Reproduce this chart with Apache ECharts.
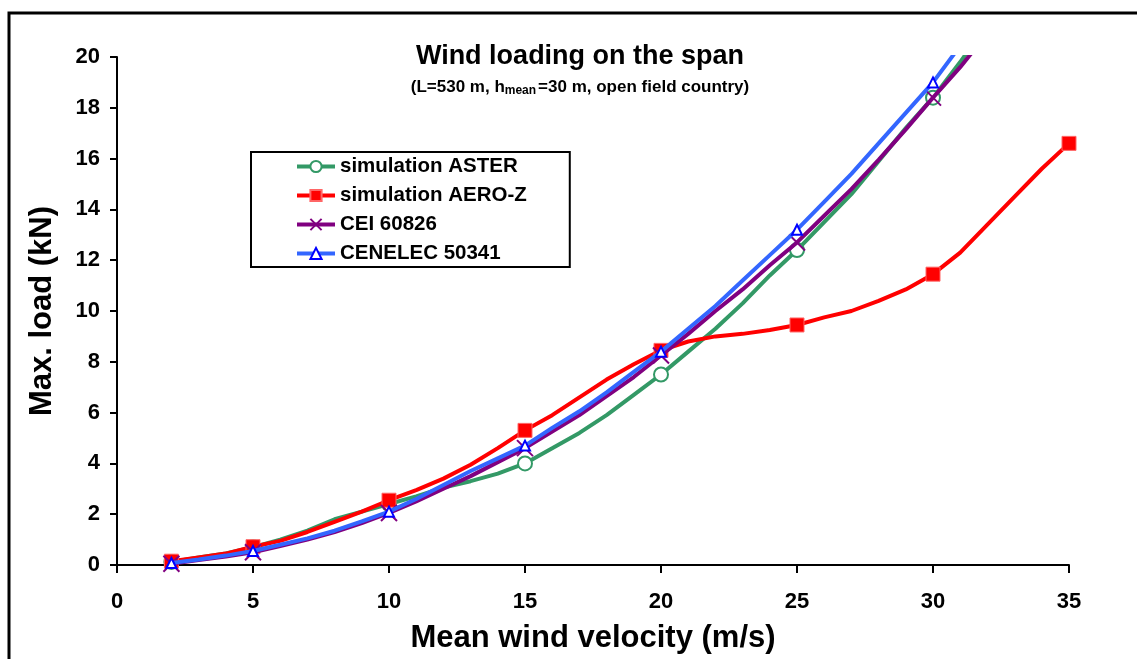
<!DOCTYPE html>
<html>
<head>
<meta charset="utf-8">
<script src="https://cdn.jsdelivr.net/npm/echarts@6/dist/echarts.min.js"></script>
<style>
  html, body { margin: 0; padding: 0; background: #fff; }
  #chart { width: 1137px; height: 659px; }
</style>
</head>
<body>
<div id="chart"></div>
<script>
// wind velocity (m/s) and max load (kN)
const velAster = [2, 3, 4, 5, 6, 7, 8, 9, 10, 11, 12, 13, 14, 15, 16, 17, 18, 19, 20, 21, 22, 23, 24, 25, 26, 27, 28, 29, 30, 31, 31.4]
const loadAster = [0.12, 0.3, 0.45, 0.7, 1.0, 1.35, 1.8, 2.1, 2.4, 2.7, 3.05, 3.3, 3.6, 4.0, 4.6, 5.2, 5.9, 6.7, 7.5, 8.4, 9.3, 10.3, 11.4, 12.4, 13.5, 14.6, 15.9, 17.2, 18.4, 19.8, 20.4]

const velAero = [2, 3, 4, 5, 6, 7, 8, 9, 10, 11, 12, 13, 14, 15, 16, 17, 18, 19, 20, 21, 22, 23, 24, 25, 26, 27, 28, 29, 30, 31, 32, 33, 34, 35]
const loadAero = [0.15, 0.3, 0.45, 0.72, 0.95, 1.3, 1.7, 2.1, 2.55, 2.95, 3.4, 3.95, 4.6, 5.3, 5.9, 6.6, 7.3, 7.9, 8.45, 8.8, 9.0, 9.1, 9.25, 9.45, 9.75, 10.0, 10.4, 10.85, 11.45, 12.3, 13.4, 14.5, 15.6, 16.6]

const velCei = [2, 3, 4, 5, 6, 7, 8, 9, 10, 11, 12, 13, 14, 15, 16, 17, 18, 19, 20, 21, 22, 23, 24, 25, 26, 27, 28, 29, 30, 31, 31.6]
const loadCei = [0.05, 0.2, 0.33, 0.5, 0.75, 1.0, 1.3, 1.65, 2.05, 2.5, 3.0, 3.5, 4.05, 4.6, 5.25, 5.9, 6.65, 7.4, 8.25, 9.1, 10.0, 10.85, 11.8, 12.7, 13.75, 14.8, 15.95, 17.15, 18.4, 19.6, 20.4]

const velCen = [2, 3, 4, 5, 6, 7, 8, 9, 10, 11, 12, 13, 14, 15, 16, 17, 18, 19, 20, 21, 22, 23, 24, 25, 26, 27, 28, 29, 30, 30.9]
const loadCen = [0.08, 0.22, 0.37, 0.55, 0.8, 1.05, 1.35, 1.72, 2.1, 2.6, 3.15, 3.7, 4.2, 4.7, 5.4, 6.05, 6.8, 7.6, 8.4, 9.3, 10.2, 11.2, 12.2, 13.2, 14.3, 15.4, 16.6, 17.8, 19.0, 20.3]

// velocities where the markers are drawn
const markerVel = [2, 5, 10, 15, 20, 25, 30, 35]

const xTicks = [0, 5, 10, 15, 20, 25, 30, 35]
const yTicks = [0, 2, 4, 6, 8, 10, 12, 14, 16, 18, 20]

function points(vel, load) {
  return vel.map((v, i) => {
    if (markerVel.includes(v)) return [v, load[i]]
    return { value: [v, load[i]], symbol: 'none' }
  })
}

const font = 'Liberation Sans, Arial, sans-serif'
const crossPath = 'path://M0,0L10,10M10,0L0,10'

const chart = echarts.init(document.getElementById('chart'))

const option = {
  animation: false,
  backgroundColor: '#ffffff',
  title: {
    text: 'Wind loading on the span',
    subtext: '(L=530 m, h{sub|mean}=30 m, open field country)',
    left: 575,
    top: 38,
    textAlign: 'center',
    itemGap: 7,
    textStyle: { fontFamily: font, fontWeight: 'bold', fontSize: 27, color: '#000' },
    subtextStyle: {
      fontFamily: font, fontWeight: 'bold', fontSize: 17, color: '#000',
      rich: {
        sub: { fontFamily: font, fontWeight: 'bold', fontSize: 12, color: '#000', padding: [8, 2, 0, 0] }
      }
    }
  },
  legend: {
    orient: 'vertical',
    left: 251,
    top: 152,
    padding: [4, 43, 3, 44],
    itemGap: 8,
    itemWidth: 38,
    itemHeight: 14,
    borderColor: '#000',
    borderWidth: 2,
    lineStyle: { width: 4 },
    textStyle: { fontFamily: font, fontWeight: 'bold', fontSize: 20.5, color: '#000' },
    data: ['simulation ASTER', 'simulation AERO-Z', 'CEI 60826', 'CENELEC 50341']
  },
  grid: { left: 117, right: 68, top: 57, bottom: 94 },
  xAxis: {
    type: 'value',
    min: 0,
    max: 35,
    interval: 5,
    name: 'Mean wind velocity (m/s)',
    nameLocation: 'middle',
    nameGap: 58,
    nameTextStyle: { fontFamily: font, fontWeight: 'bold', fontSize: 31, color: '#000' },
    axisLine: { lineStyle: { color: '#000', width: 2 } },
    axisTick: { show: true, length: 8, lineStyle: { color: '#000', width: 2 } },
    axisLabel: {
      margin: 26, fontFamily: font, fontWeight: 'bold', fontSize: 22, color: '#000',
      formatter: v => xTicks.includes(v) ? String(v) : ''
    },
    splitLine: { show: false }
  },
  yAxis: {
    type: 'value',
    min: 0,
    max: 20,
    interval: 2,
    name: 'Max. load (kN)',
    nameLocation: 'middle',
    nameGap: 59,
    nameTextStyle: { fontFamily: font, fontWeight: 'bold', fontSize: 31, color: '#000' },
    axisLine: { show: true, lineStyle: { color: '#000', width: 2 } },
    axisTick: { show: true, length: 7, lineStyle: { color: '#000', width: 2 } },
    axisLabel: {
      margin: 17, fontFamily: font, fontWeight: 'bold', fontSize: 22, color: '#000',
      formatter: v => yTicks.includes(v) ? String(v) : ''
    },
    splitLine: { show: false }
  },
  graphic: [{
    type: 'rect',
    shape: { x: 9, y: 13, width: 1140, height: 660 },
    style: { fill: 'none', stroke: '#000', lineWidth: 3 },
    silent: true
  }],
  series: [
    {
      name: 'simulation ASTER',
      type: 'line',
      data: points(velAster, loadAster),
      showAllSymbol: true,
      symbol: 'circle',
      symbolSize: 14,
      lineStyle: { color: '#339966', width: 4 },
      itemStyle: { color: '#ffffff', borderColor: '#339966', borderWidth: 2 },
      z: 2
    },
    {
      name: 'simulation AERO-Z',
      type: 'line',
      data: points(velAero, loadAero),
      showAllSymbol: true,
      symbol: 'rect',
      symbolSize: 14,
      lineStyle: { color: '#ff0000', width: 4 },
      itemStyle: { color: '#ff0000', borderColor: '#ff6666', borderWidth: 1 },
      z: 3
    },
    {
      name: 'CEI 60826',
      type: 'line',
      data: points(velCei, loadCei),
      showAllSymbol: true,
      symbol: crossPath,
      symbolSize: 16,
      lineStyle: { color: '#800080', width: 4 },
      itemStyle: { color: '#800080', borderColor: '#800080', borderWidth: 2 },
      z: 4
    },
    {
      name: 'CENELEC 50341',
      type: 'line',
      data: points(velCen, loadCen),
      showAllSymbol: true,
      symbol: 'triangle',
      symbolSize: 10,
      lineStyle: { color: '#3366ff', width: 4 },
      itemStyle: { color: '#ffffff', borderColor: '#0000ff', borderWidth: 2 },
      z: 5
    }
  ]
}

chart.setOption(option)
</script>
</body>
</html>
